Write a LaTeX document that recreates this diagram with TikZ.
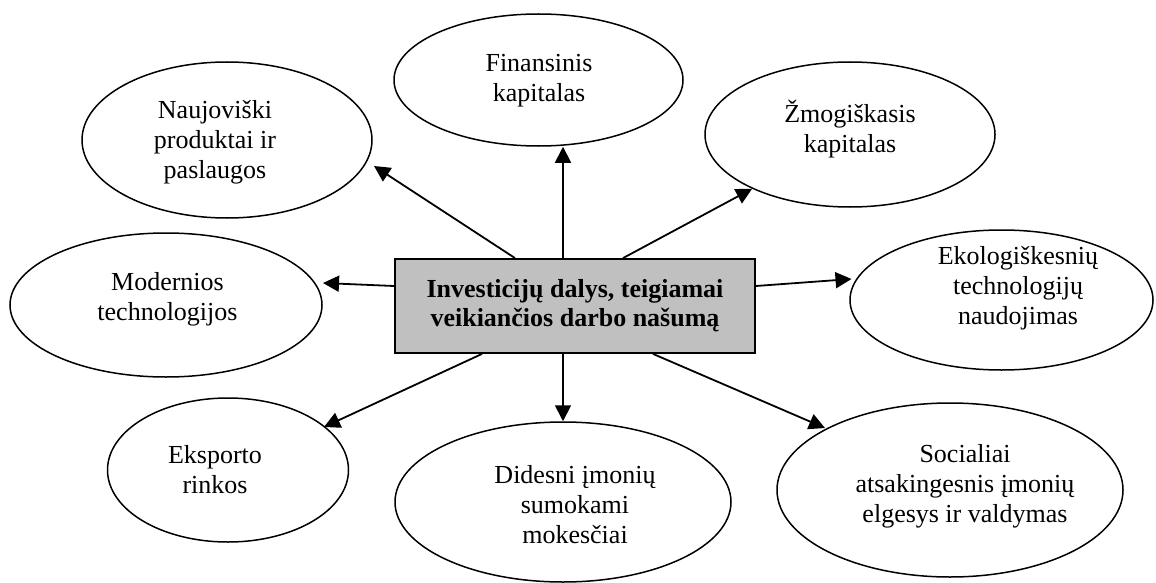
\documentclass[tikz,border=0pt]{standalone}
\usepackage{fontspec}
\setmainfont{Liberation Serif}
\usetikzlibrary{shapes.geometric,arrows.meta,calc}
\definecolor{boxgray}{RGB}{192,192,192}
\begin{document}
\begin{tikzpicture}[x=1pt,y=-1pt,
  bubble/.style={ellipse,draw,line width=1.5pt,inner sep=0pt},
  lbl/.style={align=center,inner sep=0pt,font=\fontsize{26}{30}\selectfont},
  corebox/.style={rectangle,draw,line width=1.8pt,fill=boxgray,
    minimum width=360pt,minimum height=94pt,align=center,
    font=\bfseries\fontsize{26}{29}\selectfont},
  link/.style={line width=1.8pt,-{Triangle[length=16pt,width=16pt]}}]

\useasboundingbox (0,0) rectangle (1156,583);

% central box
\node[corebox] (core) at (575,306) {Investicijų dalys, teigiamai\\veikiančios darbo našumą};

% surrounding ellipses
\node[bubble,minimum width=290pt,minimum height=156pt] (naujo) at (227,140) {};
\node[lbl] (naujo-t) at (215,142.5) {Naujoviški\\produktai ir\\paslaugos};

\node[bubble,minimum width=289pt,minimum height=132pt] (fin) at (538.5,80) {};
\node[lbl] (fin-t) at (539,81) {Finansinis\\kapitalas};

\node[bubble,minimum width=290pt,minimum height=145pt] (zmog) at (850,134.5) {};
\node[lbl] (zmog-t) at (850,129.5) {Žmogiškasis\\kapitalas};

\node[bubble,minimum width=312pt,minimum height=144pt] (modern) at (166,305) {};
\node[lbl] (modern-t) at (167.5,299.5) {Modernios\\technologijos};

\node[bubble,minimum width=303pt,minimum height=140pt] (ekolog) at (1001.5,300) {};
\node[lbl] (ekolog-t) at (1018,288.5) {Ekologiškesnių\\technologijų\\naudojimas};

\node[bubble,minimum width=241pt,minimum height=144pt] (ekspo) at (228,470) {};
\node[lbl] (ekspo-t) at (215,470) {Eksporto\\rinkos};

\node[bubble,minimum width=336pt,minimum height=160pt] (dide) at (563,502) {};
\node[lbl] (dide-t) at (575,504.5) {Didesni įmonių\\sumokami\\mokesčiai};

\node[bubble,minimum width=346pt,minimum height=174pt] (soc) at (950,490) {};
\node[lbl] (soc-t) at (965,486) {Socialiai\\atsakingesnis įmonių\\elgesys ir valdymas};

% arrows from the central box
\draw[link] ([xshift=-60pt]core.north) -- ([shift={(147pt,-26pt)}]naujo.center);
\draw[link] (dide.north |- core.north) -- (dide.north |- fin.south);
\draw[link] ([xshift=48pt]core.north) -- (zmog.-151);
\draw[link] ([yshift=20pt]core.west) -- ([shift={(157pt,22pt)}]modern.center);
\draw[link] ([yshift=20pt]core.east) -- ([shift={(-150pt,21pt)}]ekolog.center);
\draw[link] ([xshift=-93pt]core.south) -- ([shift={(96pt,43pt)}]ekspo.center);
\draw[link] (dide.north |- core.south) -- (dide.north);
\draw[link] ([xshift=78pt]core.south) -- ([shift={(-125pt,62pt)}]soc.center);
\end{tikzpicture}
\end{document}
